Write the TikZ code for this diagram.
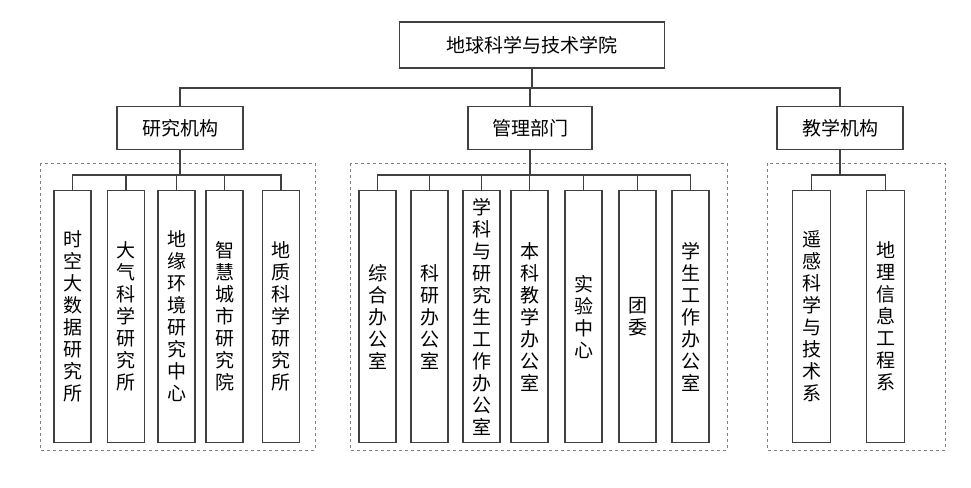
\documentclass[tikz,border=0pt]{standalone}
\usepackage{fontspec}
\setmainfont{Noto Sans CJK SC}
\begin{document}
\begin{tikzpicture}[x=1pt,y=-1pt,
  ln/.style={draw=black!75,line width=1.1pt},
  box/.style={ln,fill=white,inner sep=0pt,font=\fontsize{19}{22}\selectfont},
  leaf/.style={box,minimum width=37pt,minimum height=252pt,align=center,anchor=north},
  grp/.style={draw=black!50,dashed,line width=0.8pt}]
\useasboundingbox (0,0) rectangle (971,487);
\draw[grp] (40,163) rectangle (315,450);
\draw[grp] (350,163) rectangle (727,450);
\draw[grp] (767,163) rectangle (945,450);
\node[box,minimum width=265pt,minimum height=46pt] (top) at (532,45) {地球科学与技术学院};
\node[box,minimum width=126pt,minimum height=43pt] (r) at (180,128) {研究机构};
\node[box,minimum width=124pt,minimum height=43pt] (m) at (530,128) {管理部门};
\node[box,minimum width=126pt,minimum height=43pt] (t) at (840,128) {教学机构};
\coordinate (bus) at (532,88);
\draw[ln] (top.south) -- (bus);
\draw[ln] (r.north) |- (bus) -| (t.north);
\draw[ln] (m.north) -- (m.north |- bus);
% leaves
\node[leaf] (r1) at (72.5,190) {时\\空\\大\\数\\据\\研\\究\\所};
\node[leaf] (r2) at (126,190) {大\\气\\科\\学\\研\\究\\所};
\node[leaf] (r3) at (176.5,190) {地\\缘\\环\\境\\研\\究\\中\\心};
\node[leaf] (r4) at (224.5,190) {智\\慧\\城\\市\\研\\究\\院};
\node[leaf] (r5) at (281,190) {地\\质\\科\\学\\研\\究\\所};
\node[leaf] (m1) at (377.5,190) {综\\合\\办\\公\\室};
\node[leaf] (m2) at (429.5,190) {科\\研\\办\\公\\室};
\node[leaf] (m3) at (481.5,190) {学\\科\\与\\研\\究\\生\\工\\作\\办\\公\\室};
\node[leaf] (m4) at (529.5,190) {本\\科\\教\\学\\办\\公\\室};
\node[leaf] (m5) at (583.5,190) {实\\验\\中\\心};
\node[leaf] (m6) at (637.5,190) {团\\委};
\node[leaf] (m7) at (690.5,190) {学\\生\\工\\作\\办\\公\\室};
\node[leaf,minimum width=38pt] (t1) at (811.5,190) {遥\\感\\科\\学\\与\\技\\术\\系};
\node[leaf,minimum width=38pt] (t2) at (885.5,190) {地\\理\\信\\息\\工\\程\\系};
% connectors
\draw[ln] (r.south) -- (r.south |- 0,175);
\draw[ln] (r1.north) -- (r1.north |- 0,175) -| (r5.north);
\foreach \n in {r2,r3,r4} \draw[ln] (\n.north) -- (\n.north |- 0,175);
\draw[ln] (m.south) -- (m.south |- 0,175);
\draw[ln] (m1.north) -- (m1.north |- 0,175) -| (m7.north);
\foreach \n in {m2,m3,m4,m5,m6} \draw[ln] (\n.north) -- (\n.north |- 0,175);
\draw[ln] (t.south) -- (t.south |- 0,175);
\draw[ln] (t1.north) -- (t1.north |- 0,175) -| (t2.north);
\end{tikzpicture}
\end{document}
